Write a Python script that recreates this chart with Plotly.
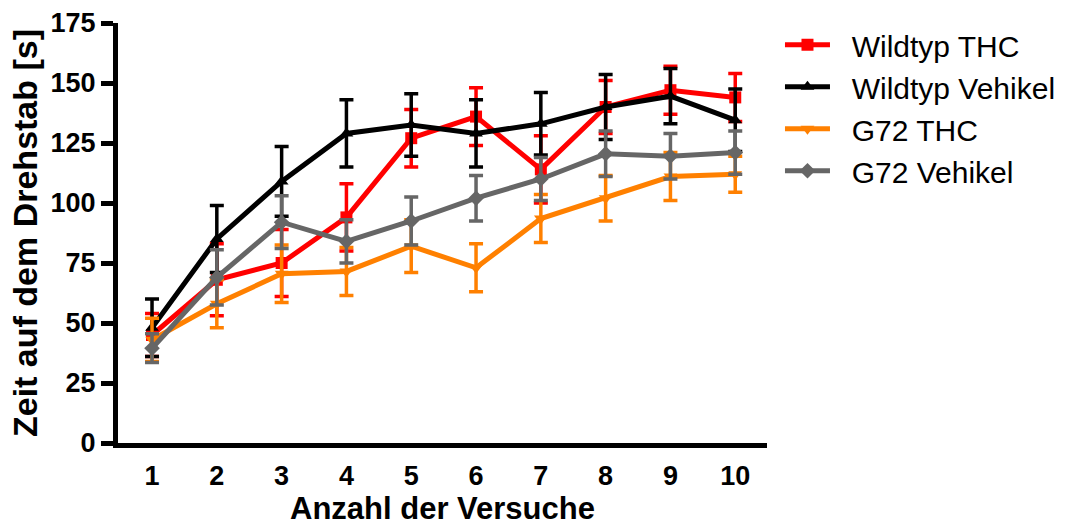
import plotly.graph_objects as go

trials = [1, 2, 3, 4, 5, 6, 7, 8, 9, 10]
x_ticks = ["1", "2", "3", "4", "5", "6", "7", "8", "9", "10"]
y_ticks = [0, 25, 50, 75, 100, 125, 150, 175]

wt_thc = [45, 68, 75, 94, 127, 136, 114, 140, 147, 144]
wt_thc_err = [9, 15, 14, 14, 12, 12, 14, 11, 10, 10]
wt_veh = [48, 85, 109, 129, 132.5, 129, 133, 140, 144.5, 134.5]
wt_veh_err = [12, 14, 14.5, 14, 13, 14, 13, 13.5, 11.5, 13]
g72_thc = [43, 58, 70.5, 71.5, 82, 73, 93.5, 102, 111, 112]
g72_thc_err = [9, 10, 12, 10, 11, 10, 10, 9.5, 10, 7.5]
g72_veh = [39.5, 69, 92, 84, 92.5, 102, 110, 120.5, 119.5, 121]
g72_veh_err = [6, 11.5, 11, 9, 10, 9.5, 9, 9.5, 9.5, 9]

series = [
    ("Wildtyp THC", wt_thc, wt_thc_err, "#FF0000", "square"),
    ("Wildtyp Vehikel", wt_veh, wt_veh_err, "#000000", "triangle-up"),
    ("G72 THC", g72_thc, g72_thc_err, "#FF8000", "triangle-down"),
    ("G72 Vehikel", g72_veh, g72_veh_err, "#666666", "diamond"),
]

FONT = "Liberation Sans, Arial, sans-serif"
PAD = "\u00a0\u00a0"

fig = go.Figure()
for name, vals, errs, color, sym in series:
    fig.add_trace(go.Scatter(
        x=trials, y=vals, name=PAD + name, mode="lines+markers",
        line=dict(color=color, width=5),
        marker=dict(symbol=sym, size=12, color=color),
        error_y=dict(type="data", array=errs, visible=True,
                     color=color, thickness=3.5, width=7),
    ))

fig.update_layout(
    width=1078, height=527,
    margin=dict(l=118, r=311, t=23, b=84, autoexpand=False),
    paper_bgcolor="white", plot_bgcolor="white",
    showlegend=True,
    legend=dict(
        x=1.02, y=1.01, xanchor="left", yanchor="top",
        font=dict(family=FONT, size=30, color="black"),
        bgcolor="rgba(0,0,0,0)", itemwidth=45,
    ),
)

fig.update_xaxes(
    range=[0.475, 10.49], tickmode="array", tickvals=trials, ticktext=x_ticks,
    showgrid=False, zeroline=False, showline=True, linecolor="black", linewidth=5,
    ticks="", ticklabelstandoff=5, automargin=False,
    tickfont=dict(family=FONT, size=27, color="black", weight="bold"),
    title=dict(text="Anzahl der Versuche", standoff=3,
               font=dict(family=FONT, size=31, color="black", weight="bold")),
)
fig.update_yaxes(
    range=[0, 175], tickmode="array", tickvals=y_ticks,
    showgrid=False, zeroline=False, showline=True, linecolor="black", linewidth=5,
    ticks="outside", ticklen=12, tickwidth=4.5, tickcolor="black", ticklabelstandoff=0,
    automargin=False,
    tickfont=dict(family=FONT, size=27, color="black", weight="bold"),
    title=dict(text="Zeit auf dem Drehstab [s]", standoff=4,
               font=dict(family=FONT, size=34, color="black", weight="bold")),
)

fig.write_html("out.html")
